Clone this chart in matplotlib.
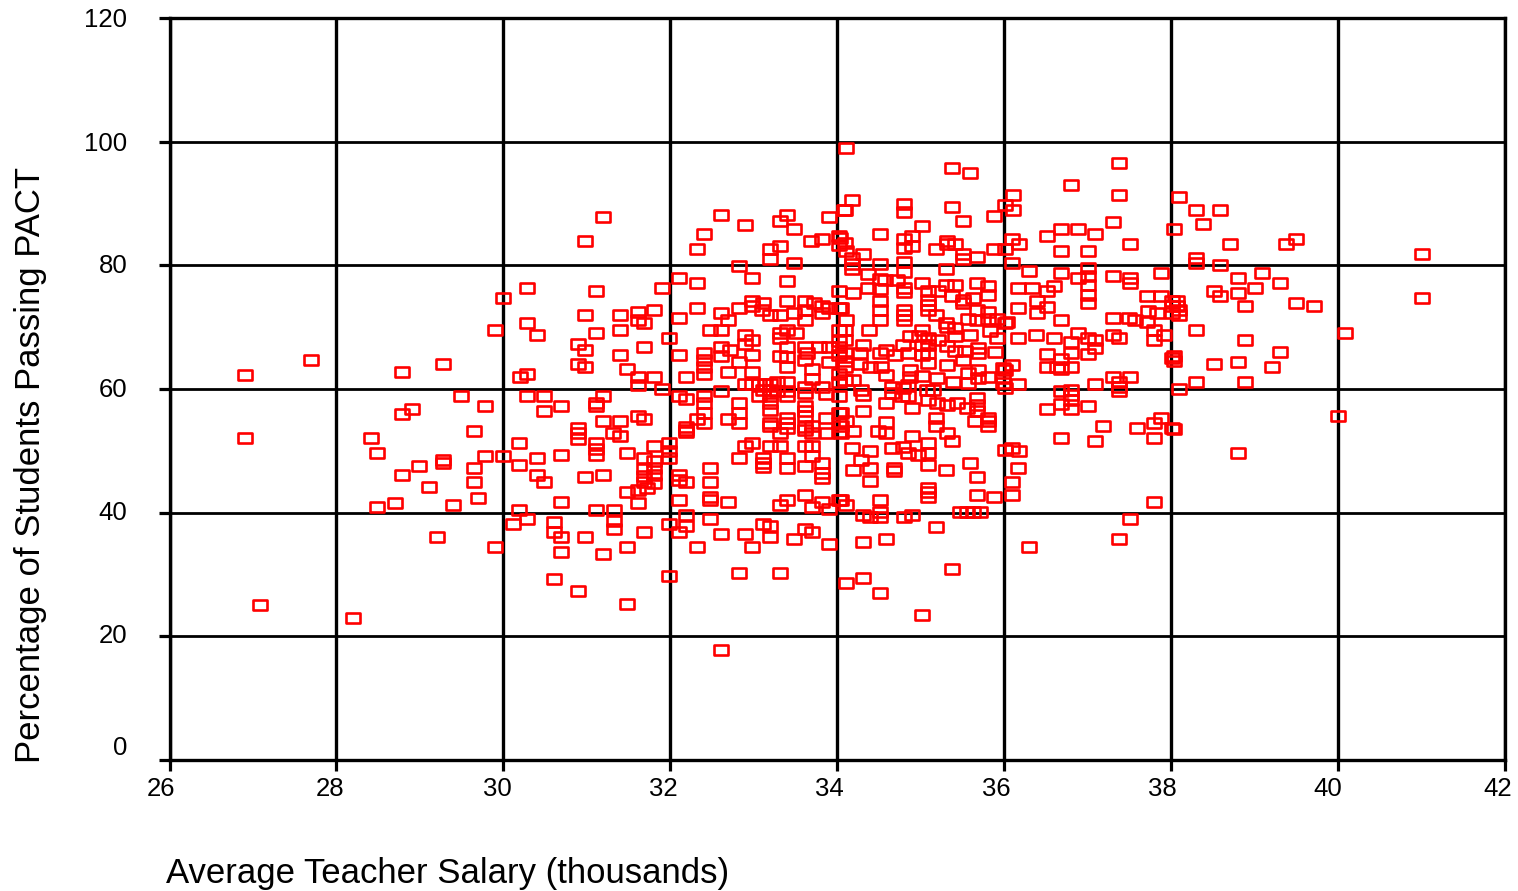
# Scatter of PACT pass rate against average teacher salary
import matplotlib
matplotlib.use("Agg")
import matplotlib.pyplot as plt
from matplotlib.path import Path

# (salary in thousands, percent passing), by salary band
band_26_30 = [
    (26.91, 62.3), (27.70, 64.7), (26.91, 52.0), (27.08, 25.0), (28.20, 23.0), (28.78, 62.7),
    (29.28, 64.0), (29.99, 74.7), (29.90, 69.5), (29.49, 58.8), (29.78, 57.2), (28.91, 56.8),
    (28.78, 56.0), (29.65, 53.2), (28.41, 52.0), (28.49, 49.6), (29.78, 49.2), (29.99, 49.2),
    (29.28, 48.5), (29.28, 48.0), (28.99, 47.6), (29.65, 47.2), (28.78, 46.1), (29.65, 44.9),
    (29.11, 44.1), (29.70, 42.4), (29.40, 41.3), (28.70, 41.6), (28.49, 40.9), (29.20, 36.1),
    (29.90, 34.5),
]
band_30_32_top = [
    (31.19, 87.8), (30.98, 83.9), (30.28, 76.3), (31.11, 75.9), (31.90, 76.3), (30.98, 71.9),
    (31.40, 71.9), (31.61, 72.4), (31.81, 72.7), (31.61, 71.1), (31.69, 70.7), (30.28, 70.7),
    (30.40, 68.7), (31.11, 69.1), (31.40, 69.5), (31.98, 68.3), (30.90, 67.2), (30.98, 66.3),
    (31.69, 66.8), (31.40, 65.5), (30.90, 64.0), (30.98, 63.6), (31.48, 63.2), (30.20, 62.0),
    (30.28, 62.4), (31.61, 62.0), (31.81, 62.0), (31.61, 60.7), (31.90, 60.0), (30.28, 58.8),
    (30.49, 58.8), (30.69, 57.2), (30.49, 56.4), (31.19, 58.8), (31.11, 57.7), (31.11, 57.2),
    (31.61, 55.6), (31.69, 55.2), (31.19, 54.8), (31.40, 54.8),
]
band_30_32_low = [
    (30.90, 53.7), (30.90, 52.9), (30.90, 51.9), (31.31, 52.9), (31.40, 52.4), (31.11, 51.2),
    (31.11, 49.4), (31.11, 50.3), (30.19, 51.2), (30.40, 48.8), (30.69, 49.3),
    (30.19, 47.7), (31.48, 49.6), (31.81, 50.8), (31.98, 51.2), (31.98, 49.9), (31.98, 48.8),
    (31.81, 48.3), (31.69, 48.8), (31.69, 47.0), (31.69, 45.9), (31.81, 47.2), (31.81, 46.1),
    (31.81, 44.8), (31.69, 45.0), (31.72, 44.0), (30.40, 46.1), (30.49, 44.9), (30.98, 45.7),
    (31.19, 46.1), (31.48, 43.3), (31.61, 43.7), (31.61, 41.6), (30.69, 41.7), (30.19, 40.5),
    (30.28, 38.95), (30.11, 38.1), (31.11, 40.5), (31.32, 40.5), (31.32, 38.6), (31.32, 37.3),
    (30.61, 38.5), (30.61, 36.9), (30.69, 36.1), (30.69, 33.7), (30.98, 36.1), (31.69, 36.9),
    (31.98, 38.1), (31.48, 34.5), (31.19, 33.3), (30.61, 29.3), (30.90, 27.4), (31.48, 25.3),
    (31.98, 29.8),
]
band_32_34_top = [
    (32.61, 88.2), (32.90, 86.6), (32.40, 85.1), (32.32, 82.7), (33.40, 88.2), (33.31, 87.1),
    (33.48, 85.9), (33.90, 87.8), (33.19, 82.7), (33.32, 83.1), (33.19, 81.1), (32.82, 79.9),
    (33.48, 80.3), (33.69, 83.9), (33.82, 84.2), (34.02, 84.7), (34.02, 83.3), (34.08, 89.0),
    (32.10, 77.9), (32.32, 77.1), (32.98, 77.9), (33.40, 77.5), (34.02, 75.9), (32.32, 73.1),
    (32.10, 71.5), (32.61, 72.3), (32.82, 73.1), (32.98, 74.3), (32.98, 73.4), (33.11, 73.9),
    (33.10, 72.7), (33.19, 71.9), (32.69, 71.1), (33.32, 71.9), (33.40, 74.3), (33.61, 74.3),
    (33.61, 72.7), (33.61, 71.1), (33.48, 72.3), (33.72, 73.9), (33.82, 73.4), (33.90, 73.1),
    (33.82, 72.3), (34.02, 73.1), (32.48, 69.5), (32.61, 69.5), (32.90, 68.7),
    (32.98, 67.9), (32.90, 67.2), (33.32, 69.1), (33.31, 68.3), (33.40, 69.5), (33.50, 69.1),
    (34.02, 69.5), (34.02, 67.7), (32.10, 65.5), (32.40, 65.9), (32.40, 64.7), (32.40, 63.6),
    (32.40, 62.4), (32.19, 62.0), (32.61, 66.8), (32.61, 65.3), (32.71, 66.3), (32.98, 65.5),
    (32.82, 64.3), (32.69, 62.8), (32.98, 62.8), (33.32, 65.3), (33.40, 66.8), (33.40, 65.2),
    (33.40, 63.5), (33.61, 66.8), (33.64, 65.9), (33.61, 64.7), (33.78, 66.8), (33.90, 66.8),
    (33.90, 64.3), (34.02, 66.8), (34.02, 65.5), (33.70, 63.2), (34.02, 62.4), (34.02, 61.2),
    (33.70, 61.6),
]
band_32_34_mid = [
    (32.90, 60.8), (32.98, 60.8), (33.06, 60.8), (33.14, 60.8), (33.20, 60.8), (33.28, 61.2),
    (33.40, 61.2), (33.40, 59.6), (33.28, 59.6), (33.20, 59.9), (33.11, 59.9), (33.06, 58.8),
    (33.19, 58.8), (33.40, 58.9), (33.19, 57.7), (33.19, 56.6), (33.61, 60.4), (33.61, 59.3),
    (33.82, 60.4), (33.86, 59.2), (34.02, 58.8), (32.61, 59.6), (32.10, 58.8), (32.19, 58.4),
    (32.40, 58.8), (32.40, 57.7), (32.82, 57.7), (32.82, 56.1), (32.82, 54.5), (32.69, 55.2),
    (32.40, 56.1), (32.32, 55.2), (32.40, 54.5), (33.61, 57.2), (33.61, 56.4), (33.61, 55.6),
    (33.19, 54.5), (33.40, 55.3), (33.40, 54.5), (33.40, 53.7), (33.61, 53.9), (33.86, 55.3),
    (34.02, 56.1), (34.02, 54.5), (32.19, 53.8),
]
band_32_34_low = [
    (32.19, 53.4), (32.19, 53.0), (33.19, 54.0), (33.32, 52.9), (33.61, 53.3), (33.70, 54.0),
    (33.70, 52.9), (33.88, 52.9), (34.02, 53.1),
    (32.90, 50.8), (32.98, 51.2), (33.19, 50.8), (33.32, 50.8), (33.61, 50.8), (33.70, 50.8),
    (32.82, 48.9), (33.11, 48.8), (33.11, 48.1), (33.11, 47.4), (33.40, 48.8), (33.40, 47.2),
    (33.61, 47.6), (33.70, 49.1), (33.82, 48.0), (33.82, 46.4), (33.82, 45.6), (32.48, 47.3),
    (32.48, 44.9), (32.10, 46.1), (32.10, 45.3), (32.19, 44.9), (32.10, 42.1), (32.48, 42.5),
    (32.48, 42.1), (32.69, 41.7), (33.32, 41.3), (33.40, 42.1), (33.61, 42.9), (33.70, 40.9),
    (33.82, 41.7), (33.90, 40.6), (34.02, 42.1), (32.19, 39.65), (32.48, 38.95), (32.19, 37.8),
    (32.10, 36.9), (33.11, 38.1), (33.19, 37.8), (33.19, 36.1), (32.61, 36.5),
    (32.90, 36.5), (32.98, 34.5), (32.32, 34.5), (33.48, 35.8), (33.61, 37.3), (33.70, 36.9),
    (33.90, 34.96), (32.82, 30.2), (33.32, 30.2), (32.61, 17.8),
]
band_34_36_top = [
    (34.11, 99.0), (35.38, 95.8), (35.59, 95.0), (34.18, 90.6), (34.09, 89.0), (34.80, 89.9),
    (34.80, 88.7), (35.38, 89.5), (35.51, 87.1), (35.88, 87.9), (36.01, 89.8), (35.01, 86.3),
    (34.51, 85.1), (34.80, 84.3), (34.89, 84.7), (34.89, 83.2), (34.80, 82.8), (35.31, 83.9),
    (35.31, 83.5), (35.41, 83.5), (35.18, 82.7), (35.51, 81.8), (35.51, 81.1), (35.68, 81.4),
    (35.88, 82.7), (36.01, 82.7), (34.31, 81.8), (34.18, 81.2), (34.18, 80.2), (34.18, 79.4),
    (34.09, 83.6), (34.03, 84.4), (34.11, 82.3), (34.51, 80.2), (34.80, 80.6), (34.80, 79.0),
    (35.30, 79.4), (34.37, 78.6), (34.51, 77.8), (34.57, 77.6), (34.71, 77.6), (34.37, 76.3),
    (34.51, 76.2), (34.19, 75.5), (34.80, 76.3), (34.80, 75.7), (35.01, 77.1), (35.09, 75.9),
    (35.21, 75.9), (35.30, 76.8), (35.41, 76.8), (35.38, 75.1), (35.68, 77.1), (35.81, 76.6),
    (35.81, 75.2), (35.51, 74.4), (35.63, 74.7), (35.51, 73.9), (35.09, 74.4), (35.09, 73.6),
    (35.09, 72.8), (34.51, 74.3), (34.51, 72.8), (34.51, 71.2), (34.80, 72.8), (34.80, 72.0),
    (34.80, 71.2), (34.05, 73.1), (34.11, 71.2), (35.18, 72.0), (35.30, 70.7), (35.57, 71.4),
    (35.68, 72.8), (35.81, 72.5), (35.68, 71.2), (35.81, 71.4), (35.91, 71.4), (36.01, 70.7),
]
band_34_36_mid = [
    (34.38, 69.5), (34.09, 69.6), (34.09, 68.0), (35.01, 69.6), (34.87, 68.5), (34.98, 68.5),
    (35.09, 68.2), (35.21, 67.9), (35.31, 70.1), (35.41, 69.9), (35.41, 68.5), (35.59, 68.8),
    (35.83, 69.3), (35.91, 68.3), (34.31, 67.1), (34.59, 66.3), (34.79, 67.1), (35.01, 67.1),
    (35.09, 67.1), (35.09, 65.8), (35.31, 66.9), (35.41, 66.1), (35.53, 66.2), (35.69, 66.6),
    (35.69, 65.8), (35.89, 66.0), (34.09, 65.8), (34.09, 64.5), (34.09, 63.6), (34.27, 65.8),
    (34.51, 65.8), (34.69, 65.5), (34.85, 65.8), (35.01, 65.5), (35.09, 64.2), (35.31, 63.9),
    (35.51, 64.7), (35.69, 63.1), (34.27, 64.1), (34.39, 63.6), (34.53, 63.6), (34.59, 62.3),
    (34.19, 61.5), (34.09, 61.5), (34.87, 63.1), (34.87, 61.9), (35.01, 62.1), (35.19, 61.7),
    (35.39, 61.2), (35.57, 62.6), (35.57, 60.9), (35.69, 61.7), (35.81, 62.0), (35.99, 63.4),
    (35.99, 62.0), (35.99, 60.9), (34.29, 59.9), (34.65, 60.4), (34.79, 60.1), (34.85, 60.7),
    (35.07, 59.9), (35.15, 59.9),
]
band_34_36_low = [
    (34.31, 59.1), (34.65, 59.3), (34.77, 58.8), (34.85, 58.8), (35.09, 58.3), (35.19, 57.7),
    (35.31, 57.4), (35.43, 57.7), (35.55, 56.9), (35.68, 58.5), (35.68, 57.4), (35.68, 56.4),
    (34.59, 57.7), (34.89, 56.9), (34.31, 56.4), (34.05, 56.1), (34.11, 54.8), (34.59, 54.7),
    (35.18, 55.3), (35.18, 54.0), (35.81, 55.3), (35.81, 54.8), (35.81, 54.0), (35.65, 54.9),
    (34.05, 54.0), (34.05, 52.9), (34.19, 53.2), (34.49, 53.2), (34.59, 52.9), (35.31, 52.9),
    (35.38, 51.6), (34.89, 52.4), (35.09, 51.2), (34.79, 50.7), (34.65, 50.4), (34.18, 50.4),
    (34.39, 50.0), (34.85, 49.6), (34.97, 49.3), (35.09, 49.6), (34.29, 48.5), (35.09, 47.7),
    (35.59, 48.1), (34.19, 46.9), (34.39, 47.3), (34.39, 45.2), (34.68, 47.3), (34.68, 46.7),
    (35.30, 46.9), (35.68, 45.7), (35.09, 44.0), (35.09, 43.3), (35.09, 42.5), (34.51, 42.1),
    (34.05, 42.1), (34.11, 41.3), (34.31, 39.6), (34.39, 39.3), (34.51, 40.1), (34.51, 39.3),
    (34.80, 39.3), (34.89, 39.7), (35.47, 40.1), (35.55, 40.1), (35.63, 40.1), (35.71, 40.1),
    (35.18, 37.7), (35.38, 30.9), (34.31, 35.3), (34.59, 35.7), (34.31, 29.4), (34.11, 28.6),
    (34.51, 27.0), (35.01, 23.4), (35.68, 42.9), (35.88, 42.5),
]
band_36_38 = [
    (37.38, 96.5), (36.80, 93.0), (37.38, 91.4), (36.10, 91.4), (36.10, 89.0), (37.30, 87.0),
    (36.68, 85.9), (36.89, 85.9), (37.09, 85.1), (36.51, 84.7), (36.09, 84.2), (36.18, 83.5),
    (37.51, 83.5), (36.68, 82.3), (37.01, 82.3), (36.09, 80.3), (36.30, 79.1), (37.01, 79.6),
    (37.01, 78.3), (37.01, 76.9), (37.01, 75.2), (37.01, 73.9), (36.68, 78.7), (36.89, 77.9),
    (37.30, 78.3), (37.51, 78.0), (37.51, 77.2), (37.88, 78.7), (36.17, 76.3), (36.33, 76.3),
    (36.60, 76.7), (36.51, 75.9), (36.39, 74.2), (36.39, 72.3), (36.51, 73.2), (36.17, 73.1),
    (37.71, 75.1), (37.88, 75.1), (38.01, 74.2), (38.01, 73.4), (38.01, 72.3), (37.72, 72.6),
    (37.83, 72.3), (36.68, 71.1), (37.30, 71.5), (37.49, 71.5), (37.57, 71.1), (37.71, 70.9),
    (36.03, 70.8), (36.17, 68.3), (36.38, 68.8), (36.60, 68.3), (36.89, 69.1), (36.80, 67.6),
    (37.01, 68.3), (37.09, 68.0), (37.09, 66.6), (37.30, 68.8), (37.38, 68.3), (37.80, 69.6),
    (37.80, 68.0), (37.91, 68.8), (36.51, 65.6), (36.80, 65.8), (37.01, 65.6), (38.01, 65.0),
    (36.51, 63.6), (36.63, 63.6), (36.68, 64.8), (36.68, 63.2), (36.80, 63.6), (36.09, 63.9),
    (36.01, 63.1), (37.30, 62.0), (37.51, 62.0), (37.09, 60.8), (37.38, 61.1), (37.38, 60.3),
    (36.17, 60.8), (36.01, 60.1), (37.38, 59.6), (36.68, 59.6), (36.80, 59.9), (36.80, 59.1),
    (36.80, 58.3), (36.80, 56.7), (36.68, 57.6), (36.51, 56.8), (37.01, 57.2), (37.18, 54.0),
    (37.59, 53.7), (37.80, 54.5), (37.88, 55.3), (38.01, 53.7), (37.80, 52.0), (36.68, 52.0),
    (37.09, 51.6), (36.01, 50.2), (36.09, 50.4), (36.18, 50.0), (36.17, 47.2), (36.09, 44.9),
    (36.09, 42.9), (37.80, 41.7), (37.51, 38.9), (37.38, 35.7), (36.30, 34.5),
]
band_38_42 = [
    (38.09, 91.0), (38.30, 89.0), (38.59, 89.0), (38.38, 86.7), (38.03, 85.9), (38.71, 83.5),
    (39.38, 83.5), (39.50, 84.3), (41.00, 81.9), (38.30, 81.2), (38.30, 80.4), (38.59, 80.0),
    (39.09, 78.7), (38.80, 77.9), (39.30, 77.1), (39.00, 76.3), (38.51, 75.9), (38.59, 75.1),
    (38.80, 75.5), (38.88, 73.5), (39.50, 73.9), (39.71, 73.5), (41.00, 74.7), (38.07, 74.2),
    (38.07, 73.5), (38.09, 72.8), (38.09, 71.9), (38.30, 69.5), (38.88, 68.0), (40.08, 69.1),
    (39.30, 66.0), (38.80, 64.4), (38.51, 64.0), (39.21, 63.5), (38.03, 65.3), (38.03, 64.6),
    (38.30, 61.2), (38.88, 61.2), (38.09, 60.0), (40.00, 55.6), (38.03, 53.6), (38.80, 49.6),
]

x_ticks = [26, 28, 30, 32, 34, 36, 38, 40, 42]
y_ticks = [0, 20, 40, 60, 80, 100, 120]
# the labels sit off their ticks in the original
x_label_shift = [-9, -6, -6, -7, -8, -8, -9, -10, -7]
y_label_shift = [12, 0, 0, -1, -1, -2, -2]

bands = [band_26_30, band_30_32_top, band_30_32_low, band_32_34_top, band_32_34_mid,
         band_32_34_low, band_34_36_top, band_34_36_mid, band_34_36_low, band_36_38, band_38_42]
points = [p for band in bands for p in band]
salary = [p[0] for p in points]
passing = [p[1] for p in points]

W, H = 1518, 891
plt.rcParams['font.family'] = ['Liberation Sans', 'DejaVu Sans']
fig = plt.figure(figsize=(W / 100, H / 100), dpi=100)
ax = fig.add_axes([169.5 / W, 1 - 760 / H, (1505 - 169.5) / W, (760 - 18) / H])
ax.set_xlim(26, 42)
ax.set_ylim(0, 120)

ax.set_xticks(x_ticks)
ax.set_yticks(y_ticks)
ax.tick_params(length=8, width=2.3, labelbottom=False, labelleft=False)
ax.grid(True, axis='x', color='black', lw=2.4)
ax.grid(True, axis='y', color='black', lw=2.0)
ax.set_axisbelow(True)
for spine in ax.spines.values():
    spine.set_linewidth(2.4)

box = Path([(-0.5, -0.34), (0.5, -0.34), (0.5, 0.34), (-0.5, 0.34), (-0.5, -0.34)], closed=True)
ax.plot(salary, passing, ls='none', marker=box, ms=10.2, mfc='none', mec='#ff0000', mew=1.9,
        clip_on=False, zorder=3)

for tick, shift in zip(x_ticks, x_label_shift):
    ax.annotate(str(tick), xy=(tick, 0), xytext=(shift, -29), textcoords='offset pixels',
                ha='center', va='center', fontsize=18.5)
for tick, shift in zip(y_ticks, y_label_shift):
    ax.annotate(str(tick), xy=(26, tick), xytext=(-42, shift), textcoords='offset pixels',
                ha='right', va='center', fontsize=18.5, annotation_clip=False)

fig.text(166 / W, 1 - 873 / H, "Average Teacher Salary (thousands)", fontsize=25,
         ha='left', va='center')
fig.text(31 / W, 1 - 465 / H, "Percentage of Students Passing PACT", fontsize=25,
         rotation=90, ha='center', va='center')

fig.savefig("out.png", dpi=100)
